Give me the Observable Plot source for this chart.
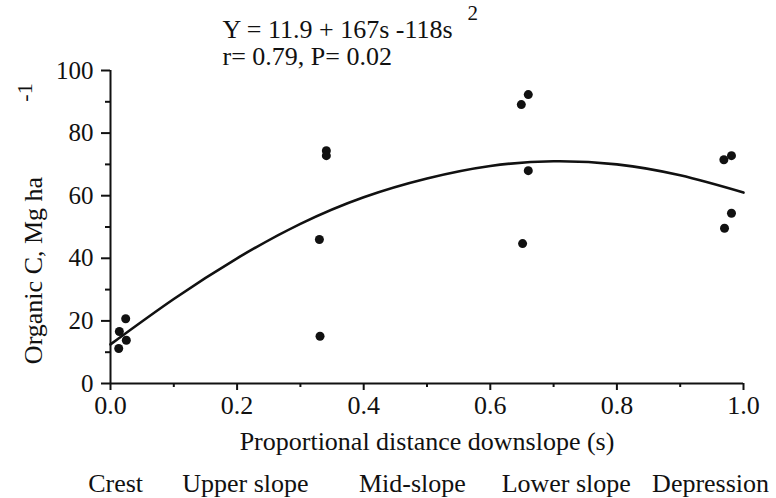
<!DOCTYPE html>
<html>
<head>
<meta charset="utf-8">
<script src="https://cdn.jsdelivr.net/npm/d3@7"></script>
<script src="https://cdn.jsdelivr.net/npm/@observablehq/plot@0.6"></script>
<style>
  html, body { margin: 0; padding: 0; background: #fff; }
  #chart svg text { font-family: "Liberation Serif", "Times New Roman", serif !important; fill: #111; }
  #chart g[aria-label="ytitle"] text { letter-spacing: 5px; }
</style>
</head>
<body>
<div id="chart"></div>
<script>
// Observed points: proportional distance downslope (s) and organic C (Mg ha-1)
const pointS = [0.024, 0.014, 0.025, 0.013,
                0.341, 0.341, 0.330, 0.331,
                0.649, 0.660, 0.660, 0.651,
                0.969, 0.981, 0.981, 0.970];
const pointC = [20.7, 16.6, 13.8, 11.2,
                74.4, 72.8, 46.0, 15.1,
                89.1, 92.3, 68.0, 44.7,
                71.5, 72.8, 54.4, 49.6];

// Fitted curve
const curveS = [0, 0.1, 0.2, 0.3, 0.4, 0.5, 0.6, 0.7, 0.8, 0.9, 1.0];
const curveC = [12.5, 27, 40, 51, 59.5, 65.5, 69.5, 71, 70, 66.5, 61];

// Axis ticks
const xTicks = [0, 0.2, 0.4, 0.6, 0.8, 1.0];
const xMinor = [0.1, 0.3, 0.5, 0.7, 0.9];
const yTicks = [0, 20, 40, 60, 80, 100];
const yMinor = [10, 30, 50, 70, 90];

// Slope-position labels below the axis
const slopeNames = ["Crest", "Upper slope", "Mid-slope", "Lower slope", "Depression"];
const slopeX = [0.008, 0.213, 0.477, 0.72, 0.948];

const points = pointS.map((s, i) => ({s, c: pointC[i]}));
const curve = curveS.map((s, i) => ({s, c: curveC[i]}));
const slopes = slopeNames.map((name, i) => ({name, s: slopeX[i]}));

const font = "Liberation Serif, Times New Roman, serif";

const chart = Plot.plot({
  width: 776,
  height: 498,
  marginLeft: 110,
  marginRight: 33,
  marginTop: 70,
  marginBottom: 115,
  style: {fontFamily: font, fontSize: "25px", color: "#111", background: "#fff"},
  x: {domain: [0, 1], axis: null},
  y: {domain: [0, 100], axis: null},
  marks: [
    // axis lines
    Plot.ruleY([0], {stroke: "#111", strokeWidth: 2}),
    Plot.ruleX([0], {stroke: "#111", strokeWidth: 2}),
    // x axis
    Plot.axisX(xTicks, {tickSize: 7, tickPadding: 5, tickFormat: d3.format(".1f"), strokeWidth: 2, fontSize: 26, label: null}),
    Plot.axisX(xMinor, {tickSize: 4, text: null, strokeWidth: 2, label: null}),
    // y axis
    Plot.axisY(yTicks, {tickSize: 9, tickPadding: 8, strokeWidth: 2, fontSize: 25, label: null}),
    Plot.axisY(yMinor, {tickSize: 5, text: null, strokeWidth: 2, label: null}),
    // fitted curve
    Plot.line(curve, {x: "s", y: "c", curve: "natural", stroke: "#111", strokeWidth: 2.6}),
    // points
    Plot.dot(points, {x: "s", y: "c", r: 4.5, fill: "#111", stroke: "none"}),
    // equation
    Plot.text(["Y = 11.9 + 167s -118s"], {frameAnchor: "top-left", lineAnchor: "middle", dx: 112, dy: -41, textAnchor: "start", fontSize: 26}),
    Plot.text(["2"], {frameAnchor: "top-left", lineAnchor: "middle", dx: 357, dy: -57, textAnchor: "start", fontSize: 21}),
    Plot.text(["r= 0.79, P= 0.02"], {frameAnchor: "top-left", lineAnchor: "middle", dx: 112, dy: -14, textAnchor: "start", fontSize: 26}),
    // y axis title
    Plot.text(["Organic C, Mg ha"], {ariaLabel: "ytitle", frameAnchor: "top-left", lineAnchor: "middle", dx: -77, dy: 200, rotate: -90, textAnchor: "middle", fontSize: 26}),
    Plot.text(["-1"], {frameAnchor: "top-left", lineAnchor: "middle", dx: -86, dy: 22, rotate: -90, textAnchor: "middle", fontSize: 22}),
    // x axis title
    Plot.text(["Proportional distance downslope (s)"], {frameAnchor: "bottom", lineAnchor: "middle", dy: 58, fontSize: 26}),
    // slope positions
    Plot.text(slopes, {x: "s", text: "name", frameAnchor: "bottom", lineAnchor: "middle", dy: 100, fontSize: 26})
  ]
});

document.getElementById("chart").appendChild(chart);
</script>
</body>
</html>
